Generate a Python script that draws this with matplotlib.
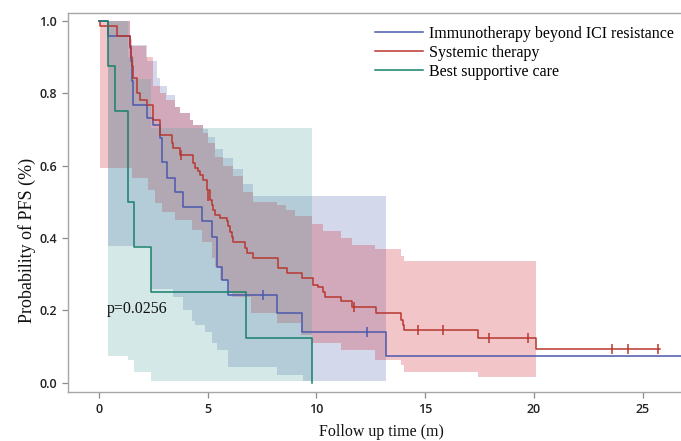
import numpy as np
import matplotlib
matplotlib.use("Agg")
import matplotlib.pyplot as plt

# --- Kaplan-Meier estimates (months, PFS probability) ---
labels = ["Immunotherapy beyond ICI resistance", "Systemic therapy", "Best supportive care"]

imm_t = [0, 0.43, 1.43, 1.47, 1.53, 1.58, 2.19, 2.50, 2.80, 2.88, 3.11, 3.49, 3.88,
         4.72, 5.18, 5.41, 5.64, 5.95, 8.17, 9.32, 13.2]
imm_s = [1.0, 0.958, 0.925, 0.888, 0.833, 0.768, 0.731, 0.713, 0.676, 0.611, 0.565, 0.528, 0.487,
         0.446, 0.404, 0.321, 0.285, 0.243, 0.192, 0.142, 0.073]
imm_end = 27.0
imm_cens_t = [7.52, 12.3]
imm_cens_s = [0.243, 0.142]

sys_t = [0, 0.05, 0.81, 1.43, 1.47, 1.50, 1.58, 1.73, 1.89, 2.19, 2.50, 2.80, 3.34, 3.42, 3.72,
         4.34, 4.41, 4.57, 4.64, 4.80, 4.95, 5.10, 5.18, 5.26, 5.33, 5.56, 5.87, 5.95, 6.02, 6.10,
         6.17, 6.71, 6.79, 7.10, 8.24, 8.63, 9.32, 9.85, 10.08, 10.31, 10.39, 11.13, 11.62, 12.72,
         13.87, 13.96, 14.02, 17.44, 20.09]
sys_s = [1.0, 0.985, 0.958, 0.929, 0.90, 0.874, 0.842, 0.800, 0.782, 0.768, 0.727, 0.685, 0.662,
         0.648, 0.630, 0.607, 0.593, 0.584, 0.575, 0.561, 0.533, 0.506, 0.492, 0.478, 0.464, 0.455,
         0.446, 0.432, 0.418, 0.404, 0.39, 0.372, 0.358, 0.344, 0.317, 0.303, 0.289, 0.271, 0.266,
         0.252, 0.238, 0.225, 0.211, 0.194, 0.174, 0.16, 0.145, 0.123, 0.093]
sys_end = 25.8
sys_cens_t = [3.77, 5.0, 11.72, 14.68, 15.8, 17.93, 19.74, 23.6, 24.3, 25.69]
sys_cens_s = [0.630, 0.515, 0.211, 0.145, 0.145, 0.123, 0.123, 0.093, 0.093, 0.093]

bsc_t = [0, 0.43, 0.74, 1.35, 1.61, 2.37, 6.74, 9.78]
bsc_s = [1.0, 0.875, 0.75, 0.5, 0.375, 0.25, 0.125, 0.0]

# confidence bands (step functions)
imm_up_t = [0.43, 1.43, 2.19, 2.65, 2.80, 3.11, 3.50, 3.72, 4.18, 4.34, 4.80, 5.03, 5.33, 5.72,
            6.17, 6.63, 7.10]
imm_up = [1.0, 0.934, 0.888, 0.842, 0.819, 0.796, 0.763, 0.745, 0.727, 0.713, 0.70, 0.68, 0.645,
          0.62, 0.59, 0.55, 0.515]
imm_lo_t = [0.43, 2.37, 3.42, 3.88, 4.26, 4.41, 4.87, 5.18, 5.41, 5.95, 8.17, 9.36]
imm_lo = [0.377, 0.26, 0.238, 0.20, 0.17, 0.16, 0.142, 0.11, 0.09, 0.045, 0.022, 0.004]
imm_ci_end = 13.2

sys_up_t = [0.05, 1.43, 1.50, 2.16, 2.50, 2.80, 3.10, 3.50, 3.72, 4.18, 4.34, 4.80, 5.03, 5.33,
            5.72, 6.17, 6.63, 7.10, 8.20, 8.60, 9.00, 9.78, 10.30, 11.13, 11.62, 12.70, 13.87, 14.02]
sys_up = [1.0, 0.95, 0.93, 0.90, 0.82, 0.80, 0.78, 0.763, 0.745, 0.727, 0.713, 0.69, 0.662, 0.625,
          0.598, 0.57, 0.528, 0.50, 0.49, 0.478, 0.46, 0.44, 0.42, 0.40, 0.38, 0.37, 0.35, 0.337]
sys_lo_t = [0.05, 1.50, 2.27, 2.57, 2.88, 3.49, 4.26, 4.72, 5.18, 5.33, 5.56, 6.0, 6.1, 7.0, 8.2,
            9.3, 9.78, 11.13, 12.7, 13.87, 14.02, 17.44]
sys_lo = [0.593, 0.565, 0.533, 0.496, 0.473, 0.45, 0.423, 0.39, 0.344, 0.321, 0.285, 0.248, 0.238,
          0.192, 0.165, 0.133, 0.11, 0.09, 0.064, 0.05, 0.029, 0.017]
sys_ci_end = 20.09

bsc_up_t = [0.43, 1.35, 1.61, 2.37]
bsc_up = [1.0, 0.90, 0.84, 0.705]
bsc_lo_t = [0.43, 1.35, 1.61, 2.37]
bsc_lo = [0.073, 0.062, 0.031, 0.004]
bsc_ci_end = 9.78

line_colors = ["#4b58ad", "#b8372f", "#17806a"]
fill_colors = ["#5767b3", "#cc1f2a", "#57a7a3"]


def step_at(knots, vals, grid):
    idx = np.searchsorted(knots, grid, side="right") - 1
    idx = np.clip(idx, 0, len(vals) - 1)
    return np.asarray(vals)[idx]


def band(ax, up_t, up, lo_t, lo, end, color):
    grid = np.union1d(np.union1d(up_t, lo_t), [end])
    u = step_at(up_t, up, grid)
    l = step_at(lo_t, lo, grid)
    ax.fill_between(grid, l, u, step="post", color=color, alpha=0.25, lw=0)


fig = plt.figure(figsize=(6.81, 4.41), dpi=100)
ax = fig.add_axes([68.3 / 681, 49 / 441, (683 - 68.3) / 681, (392 - 12.7) / 441])

# order of the bands matters for the blended colours (overlap of all three looks grey)
band(ax, imm_up_t, imm_up, imm_lo_t, imm_lo, imm_ci_end, fill_colors[0])
band(ax, sys_up_t, sys_up, sys_lo_t, sys_lo, sys_ci_end, fill_colors[1])
band(ax, bsc_up_t, bsc_up, bsc_lo_t, bsc_lo, bsc_ci_end, fill_colors[2])

lw = 1.1
ax.step(imm_t + [imm_end], imm_s + [imm_s[-1]], where="post", color=line_colors[0], lw=lw, label=labels[0])
ax.step(sys_t + [sys_end], sys_s + [sys_s[-1]], where="post", color=line_colors[1], lw=lw, label=labels[1])
ax.step(bsc_t, bsc_s, where="post", color=line_colors[2], lw=lw, label=labels[2])

ax.plot(imm_cens_t, imm_cens_s, "|", color=line_colors[0], ms=7, mew=1.1)
ax.plot(sys_cens_t, sys_cens_s, "|", color=line_colors[1], ms=7, mew=1.1)

serif = ["Liberation Serif", "DejaVu Serif"]
ax.text(0.37, 0.205, "p=0.0256", family=serif, fontsize=11.5, va="center", ha="left", color="#111111")

ax.set_xlim(-1.41, 26.85)
ax.set_ylim(-0.025, 1.022)
ax.set_xticks([0, 5, 10, 15, 20, 25])
ax.set_yticks([0, 0.2, 0.4, 0.6, 0.8, 1.0])
ax.set_yticklabels(["0.0", "0.2", "0.4", "0.6", "0.8", "1.0"])
for lab in ax.get_xticklabels() + ax.get_yticklabels():
    lab.set_family("Open Sans")
    lab.set_fontsize(9)
    lab.set_weight("semibold")
    lab.set_color("#222222")
ax.tick_params(direction="out", length=4, width=0.9, color="#8a8a8a", pad=4)
for sp in ax.spines.values():
    sp.set_color("#a6a6a6")
    sp.set_linewidth(1.0)

ax.set_xlabel("Follow up time (m)", family=serif, fontsize=11.5, color="#111111")
ax.set_ylabel("Probability of PFS (%)", family=serif, fontsize=13, color="#111111")
ax.xaxis.set_label_coords((380 - 68.3) / 612.7, -0.084)
ax.yaxis.set_label_coords(-0.053, 0.40)

leg = ax.legend(loc="upper left", bbox_to_anchor=(375 / 681, 1 - 26 / 441),
                bbox_transform=fig.transFigure, frameon=False, borderpad=0, borderaxespad=0,
                handlelength=3.0, handletextpad=0.35, labelspacing=0.18,
                prop={"family": serif, "size": 11.5})

fig.savefig("out.png", dpi=100)
